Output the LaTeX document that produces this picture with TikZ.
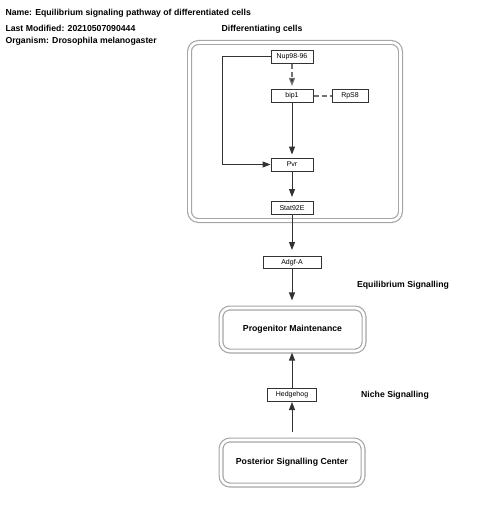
\documentclass[tikz,border=0pt]{standalone}
\usepackage{fontspec}
\setmainfont{Liberation Sans}
\usepackage{tikz}
\usetikzlibrary{arrows.meta}
\usetikzlibrary{positioning}

\begin{document}
\begin{tikzpicture}[x=1pt,y=-1pt,->,>={Triangle[length=8pt,width=6pt]},line width=1pt,
    gene node/.style={rectangle,draw,fill=white,font=\fontsize{7}{8}\selectfont,minimum width=42pt,minimum height=13pt,inner sep=1pt},
    group node/.style={rectangle,rounded corners=9pt,draw=black!35,double=white,double distance=2.6pt,line width=1.2pt},
    label node/.style={font=\bfseries\fontsize{8.7}{10}\selectfont,inner sep=0pt}]
  \useasboundingbox (0,0) rectangle (480,516);
  % header
  \node[label node,anchor=west] (name) at (5,13) {Name: Equilibrium signaling pathway of differentiated cells};
  \node[label node,anchor=west] (mod) at (5,28) {Last Modified: 20210507090444};
  \node[label node,anchor=west] (org) at (5,41.5) {Organism: Drosophila melanogaster};
  \begin{scope}[draw=black!80]
    % differentiating cells
    \node[group node,minimum width=211pt,minimum height=178pt] (diff) at (295,131.5) {};
    \node[label node] (difflab) at (262,29) {Differentiating cells};
    \node[gene node] (nup) at (292,57) {Nup98-96};
    \node[gene node] (bip) at (292,96) {bip1};
    \node[gene node,minimum width=36pt] (rps) at (350,96) {RpS8};
    \node[gene node] (pvr) at (292,164.5) {Pvr};
    \node[gene node] (stat) at (292,208) {Stat92E};
    \coordinate (turn) at (222,57);
    \path[->,dash pattern=on 5pt off 3pt,draw=black!55,line width=1.2pt] (nup) edge[shorten >=3pt] (bip);
    \path[-,dash pattern=on 5pt off 3pt,draw=black!55,line width=1.2pt] (bip) edge (rps);
    \path[->] (bip) edge[shorten >=3pt] (pvr);
    \draw[->] (nup.west) -- (turn) |- (pvr.west);
    \path[->] (pvr) edge[shorten >=4pt] (stat);
    % signalling
    \node[gene node,minimum width=58pt,minimum height=12pt] (adgf) at (292,262.5) {Adgf-A};
    \node[group node,minimum width=143pt,minimum height=43pt,label node] (prog) at (292.5,329.5) {Progenitor Maintenance};
    \node[label node] (eqlab) at (403,285) {Equilibrium Signalling};
    \node[gene node,minimum width=49pt] (hh) at (292,395) {Hedgehog};
    \node[label node] (nichelab) at (395,395) {Niche Signalling};
    \node[group node,minimum width=142pt,minimum height=45pt,label node] (post) at (292,462.5) {Posterior Signalling Center};
    \path[->] (stat) edge[shorten >=6pt] (adgf);
    \path[->] (adgf) edge[shorten >=7pt] (prog.north -| adgf);
    \path[->] (post.north -| hh) edge[shorten <=7pt] (hh);
    \path[->] (hh) edge[shorten >=1pt] (prog.south -| hh);
  \end{scope}
\end{tikzpicture}
\end{document}
